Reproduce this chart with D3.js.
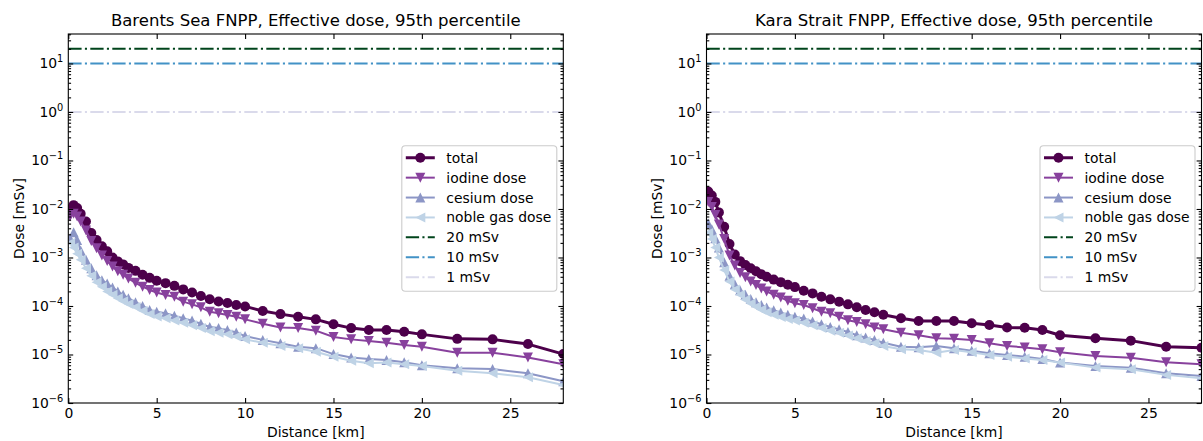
<!DOCTYPE html>
<html><head><meta charset="utf-8">
<script src="https://cdn.jsdelivr.net/npm/d3@7/dist/d3.min.js"></script>
<style>
html,body{margin:0;padding:0;background:#fff;}
svg text{font-family:"DejaVu Sans",sans-serif;fill:#000;}
</style></head>
<body><svg id="chart" width="1203" height="441"></svg>
<script>
const distanceKm = [0.1,0.3,0.5,0.7,1.0,1.3,1.6,1.9,2.2,2.5,2.8,3.1,3.4,3.8,4.2,4.6,
  5,5.5,6,6.5,7,7.5,8,8.5,9,9.5,10,11,12,13,14,15,16,17,18,19,20,22,24,26,28];

const barentsTotal = [1.0e-2,1.2e-2,1.05e-2,8.0e-3,5.5e-3,3.2e-3,2.3e-3,1.7e-3,1.35e-3,1.0e-3,8.3e-4,7.2e-4,6.1e-4,5.3e-4,4.4e-4,3.8e-4,
  3.3e-4,2.96e-4,2.6e-4,2.2e-4,1.9e-4,1.6e-4,1.38e-4,1.24e-4,1.15e-4,1.05e-4,9.8e-5,
  7.9e-5,6.8e-5,6.0e-5,5.3e-5,4.2e-5,3.5e-5,3.2e-5,3.2e-5,2.95e-5,2.6e-5,
  2.1e-5,2.05e-5,1.64e-5,1.02e-5];
const barentsIodine = [7.0e-3,8.0e-3,7.0e-3,5.5e-3,3.6e-3,2.2e-3,1.55e-3,1.1e-3,8.5e-4,6.5e-4,5.2e-4,4.4e-4,3.7e-4,3.0e-4,2.5e-4,2.14e-4,
  1.9e-4,1.69e-4,1.55e-4,1.23e-4,1.08e-4,9.4e-5,7.6e-5,7.1e-5,6.5e-5,6.0e-5,5.3e-5,
  4.3e-5,3.6e-5,3.5e-5,3.1e-5,2.3e-5,2.05e-5,1.9e-5,1.74e-5,1.57e-5,1.45e-5,
  1.09e-5,1.09e-5,8.7e-6,6.3e-6];
const barentsCesium = [2.5e-3,3.3e-3,2.3e-3,1.4e-3,9.0e-4,6.0e-4,4.3e-4,3.4e-4,2.9e-4,2.4e-4,2.0e-4,1.7e-4,1.45e-4,1.2e-4,1.0e-4,8.3e-5,
  7.6e-5,7.1e-5,6.3e-5,5.6e-5,5.0e-5,4.3e-5,3.7e-5,3.5e-5,3.2e-5,2.85e-5,2.4e-5,
  2.0e-5,1.7e-5,1.45e-5,1.35e-5,1.02e-5,8.7e-6,8.1e-6,7.7e-6,6.9e-6,6.0e-6,
  5.2e-6,5.0e-6,4.1e-6,2.8e-6];
const barentsNoble = [2.0e-3,1.6e-3,1.2e-3,9.0e-4,6.0e-4,4.2e-4,3.1e-4,2.5e-4,2.0e-4,1.7e-4,1.45e-4,1.25e-4,1.1e-4,9.5e-5,8.0e-5,6.8e-5,
  6.1e-5,5.6e-5,5.0e-5,4.5e-5,4.0e-5,3.5e-5,3.0e-5,2.8e-5,2.6e-5,2.35e-5,2.05e-5,
  1.75e-5,1.5e-5,1.34e-5,1.14e-5,9.0e-6,7.4e-6,6.6e-6,6.8e-6,6.3e-6,5.8e-6,
  4.6e-6,4.1e-6,3.4e-6,2.35e-6];

const karaTotal = [2.3e-2,1.9e-2,1.4e-2,8.5e-3,4.3e-3,1.9e-3,1.15e-3,8.4e-4,7.0e-4,6.0e-4,5.2e-4,4.5e-4,4.0e-4,3.5e-4,3.1e-4,2.75e-4,
  2.45e-4,2.07e-4,1.82e-4,1.55e-4,1.37e-4,1.23e-4,1.08e-4,9.4e-5,8.3e-5,7.4e-5,6.6e-5,
  5.6e-5,4.9e-5,4.9e-5,4.9e-5,4.4e-5,4.05e-5,3.6e-5,3.55e-5,3.2e-5,2.5e-5,
  2.16e-5,1.93e-5,1.45e-5,1.38e-5];
const karaIodine = [1.4e-2,1.1e-2,7.5e-3,4.8e-3,2.4e-3,1.1e-3,6.8e-4,4.8e-4,3.9e-4,3.2e-4,2.7e-4,2.3e-4,2.0e-4,1.7e-4,1.5e-4,1.28e-4,
  1.14e-4,1.05e-4,9.0e-5,7.6e-5,7.1e-5,6.0e-5,5.1e-5,4.7e-5,4.2e-5,3.6e-5,3.3e-5,
  2.8e-5,2.5e-5,2.16e-5,2.1e-5,2.0e-5,1.7e-5,1.5e-5,1.4e-5,1.28e-5,1.11e-5,
  9.3e-6,8.6e-6,6.9e-6,6.3e-6];
const karaCesium = [5.0e-3,3.8e-3,2.5e-3,1.6e-3,8.0e-4,4.2e-4,2.8e-4,2.1e-4,1.7e-4,1.4e-4,1.2e-4,1.05e-4,9.3e-5,8.2e-5,7.3e-5,6.6e-5,
  6.0e-5,5.5e-5,4.8e-5,4.2e-5,3.7e-5,3.3e-5,2.9e-5,2.5e-5,2.25e-5,2.0e-5,1.75e-5,
  1.45e-5,1.41e-5,1.5e-5,1.34e-5,1.2e-5,1.06e-5,9.8e-6,9.0e-6,8.1e-6,6.8e-6,
  5.8e-6,5.35e-6,4.1e-6,3.6e-6];
const karaNoble = [3.2e-3,2.4e-3,1.6e-3,1.0e-3,5.5e-4,3.2e-4,2.2e-4,1.7e-4,1.35e-4,1.12e-4,9.6e-5,8.4e-5,7.4e-5,6.6e-5,5.9e-5,5.4e-5,
  5.0e-5,4.5e-5,4.0e-5,3.5e-5,3.1e-5,2.8e-5,2.45e-5,2.15e-5,1.9e-5,1.7e-5,1.5e-5,
  1.28e-5,1.24e-5,1.09e-5,1.24e-5,1.11e-5,9.8e-6,9.0e-6,8.3e-6,7.7e-6,6.8e-6,
  5.4e-6,4.95e-6,3.8e-6,3.25e-6];

const seriesNames = ["total","iodine dose","cesium dose","noble gas dose"];
const refLevels = [20, 10, 1];
const refNames = ["20 mSv","10 mSv","1 mSv"];
const panelTitles = ["Barents Sea FNPP, Effective dose, 95th percentile","Kara Strait FNPP, Effective dose, 95th percentile"];
const xTickValues = [0,5,10,15,20,25];
const yTickExponents = [-6,-5,-4,-3,-2,-1,0,1];
const xDomain = [0, 28];
const yDomain = [1e-6, 40.5];

// styles
const seriesColors = ["#4d004b","#88419d","#8c96c6","#bfd3e6"];
const seriesWidths = [3,2,2,2];
const seriesMarkers = ["circle","down","up","left"];
const refColors = ["#00441b","#4292c6","#dadaeb"];

const svg = d3.select("#chart");
const panels = [
  {x0:68.3, x1:563.3, data:[barentsTotal,barentsIodine,barentsCesium,barentsNoble]},
  {x0:706.5, x1:1201.5, data:[karaTotal,karaIodine,karaCesium,karaNoble]}
];
const yTop = 34, yBot = 403;

function markerPath(type, s){
  if(type==="down") return `M0,${s}L${-s},${-s}L${s},${-s}Z`;
  if(type==="up") return `M0,${-s}L${-s},${s}L${s},${s}Z`;
  if(type==="left") return `M${-s},0L${s},${-s}L${s},${s}Z`;
  return null;
}
function drawMarker(g, type, color, cx, cy){
  if(type==="circle"){
    g.append("circle").attr("cx",cx).attr("cy",cy).attr("r",5).attr("fill",color);
  } else {
    g.append("path").attr("d",markerPath(type,5)).attr("transform",`translate(${cx},${cy})`).attr("fill",color);
  }
}

panels.forEach((p, pi) => {
  const x = d3.scaleLinear().domain(xDomain).range([p.x0, p.x1]);
  const y = d3.scaleLog().domain(yDomain).range([yBot, yTop]);
  const g = svg.append("g");
  const clipId = "clip"+pi;
  svg.append("clipPath").attr("id",clipId).append("rect")
    .attr("x",p.x0).attr("y",yTop).attr("width",p.x1-p.x0).attr("height",yBot-yTop);

  const plot = g.append("g").attr("clip-path",`url(#${clipId})`);
  p.data.forEach((vals, si) => {
    const pts = distanceKm.map((d,i)=>[d, vals[i]]);
    const line = d3.line().x(d=>x(d[0])).y(d=>y(d[1]));
    plot.append("path").attr("d",line(pts)).attr("fill","none")
      .attr("stroke",seriesColors[si]).attr("stroke-width",seriesWidths[si]).attr("stroke-linejoin","round");
    const mg = plot.append("g");
    pts.forEach(d => drawMarker(mg, seriesMarkers[si], seriesColors[si], x(d[0]), y(d[1])));
  });
  refLevels.forEach((lv, ri) => {
    plot.append("line").attr("x1",p.x0).attr("x2",p.x1).attr("y1",y(lv)).attr("y2",y(lv))
      .attr("stroke",refColors[ri]).attr("stroke-width",2).attr("stroke-dasharray","13.3,3.3,2.1,3.3");
  });

  const axB = d3.axisBottom(x).tickValues(xTickValues).tickSize(-4.9).tickPadding(5).tickFormat(d3.format("d"));
  const axT = d3.axisTop(x).tickValues(xTickValues).tickSize(-4.9).tickFormat("");
  const gb = g.append("g").attr("transform",`translate(0,${yBot})`).call(axB);
  const gt = g.append("g").attr("transform",`translate(0,${yTop})`).call(axT);
  [gb,gt].forEach(a=>{a.select(".domain").remove(); a.selectAll(".tick line").attr("stroke","#000").attr("stroke-width",1.1);});
  gb.selectAll(".tick text").attr("font-size","13.9px").attr("font-family","DejaVu Sans").attr("fill","#000");

  const majors = yTickExponents.map(e=>Math.pow(10,e));
  const minors = [];
  yTickExponents.forEach(e=>{ for(let k=2;k<=9;k++){ const v=k*Math.pow(10,e); if(v<yDomain[1]) minors.push(v);} });
  const axL = d3.axisLeft(y).tickValues(majors).tickSize(-4.9).tickFormat("");
  const axR = d3.axisRight(y).tickValues(majors).tickSize(-4.9).tickFormat("");
  const axLm = d3.axisLeft(y).tickValues(minors).tickSize(-2.8).tickFormat("");
  const axRm = d3.axisRight(y).tickValues(minors).tickSize(-2.8).tickFormat("");
  [[axL,p.x0],[axR,p.x1],[axLm,p.x0],[axRm,p.x1]].forEach(([a,xx])=>{
    const ga = g.append("g").attr("transform",`translate(${xx},0)`).call(a);
    ga.select(".domain").remove();
    ga.selectAll(".tick line").attr("stroke","#000").attr("stroke-width",1.1);
  });
  majors.forEach((v, i) => {
    const e = yTickExponents[i];
    const t = g.append("text").attr("x",p.x0-5).attr("y",y(v)+5).attr("text-anchor","end").attr("font-size","13.9px");
    t.append("tspan").text("10");
    t.append("tspan").attr("dy",-6).attr("font-size","9.8px").text(e<0 ? "\u2212"+Math.abs(e) : String(e));
  });

  g.append("rect").attr("x",p.x0).attr("y",yTop).attr("width",p.x1-p.x0).attr("height",yBot-yTop)
    .attr("fill","none").attr("stroke","#000").attr("stroke-width",1.1);

  const cx = (p.x0+p.x1)/2;
  g.append("text").attr("x",cx).attr("y",26).attr("text-anchor","middle").attr("font-size","16.5px").text(panelTitles[pi]);
  g.append("text").attr("x",cx).attr("y",437).attr("text-anchor","middle").attr("font-size","13.9px").text("Distance [km]");
  g.append("text").attr("transform",`translate(${p.x0-44.5},${(yTop+yBot)/2}) rotate(-90)`).attr("text-anchor","middle")
    .attr("font-size","13.9px").text("Dose [mSv]");

  const lw = 155, lh = 145.5;
  const lx = p.x1 - 6.5 - lw, ly = (yTop+yBot)/2 - lh/2;
  const lg = g.append("g");
  lg.append("rect").attr("x",lx).attr("y",ly).attr("width",lw).attr("height",lh).attr("rx",3.5)
    .attr("fill","#fff").attr("fill-opacity",0.8).attr("stroke","#cccccc").attr("stroke-width",1.1);
  const rowY = i => ly + 12 + i*19.9;
  const hx0 = lx + 4, hx1 = lx + 33;
  seriesNames.forEach((nm, i) => {
    const yy = rowY(i);
    lg.append("line").attr("x1",hx0).attr("x2",hx1).attr("y1",yy).attr("y2",yy)
      .attr("stroke",seriesColors[i]).attr("stroke-width",seriesWidths[i]);
    drawMarker(lg, seriesMarkers[i], seriesColors[i], (hx0+hx1)/2, yy);
    lg.append("text").attr("x",lx+44.5).attr("y",yy+5).attr("font-size","13.9px").text(nm);
  });
  refNames.forEach((nm, i) => {
    const yy = rowY(i+4);
    lg.append("line").attr("x1",hx0).attr("x2",hx1).attr("y1",yy).attr("y2",yy)
      .attr("stroke",refColors[i]).attr("stroke-width",2).attr("stroke-dasharray","13.3,3.3,2.1,3.3");
    lg.append("text").attr("x",lx+44.5).attr("y",yy+5).attr("font-size","13.9px").text(nm);
  });
});
</script></body></html>
